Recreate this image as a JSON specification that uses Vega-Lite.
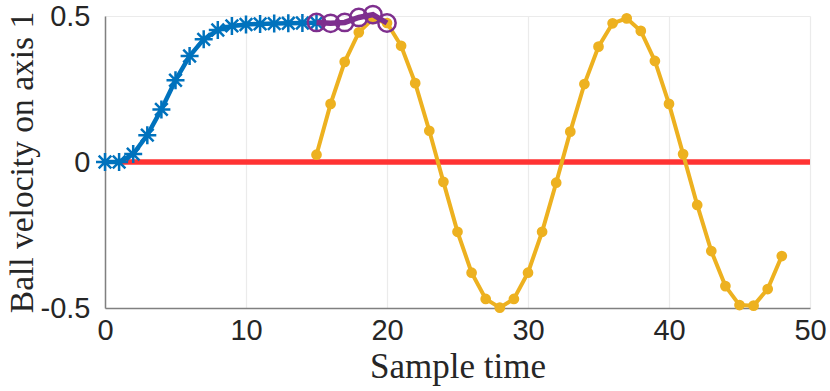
{
  "$schema": "https://vega.github.io/schema/vega-lite/v6.json",
  "width": 705,
  "height": 292,
  "autosize": {"type": "none"},
  "padding": {"left": 105, "top": 16, "right": 20, "bottom": 83},
  "background": "white",
  "config": {
    "view": {"stroke": null},
    "axis": {
      "labelFont": "Liberation Sans",
      "labelFontSize": 29,
      "labelColor": "#262626",
      "labelFlush": false,
      "labelOverlap": false,
      "titleFont": "Liberation Serif",
      "titleFontWeight": "normal",
      "titleColor": "#262626",
      "domainColor": "#808080",
      "domainWidth": 1.5,
      "ticks": false,
      "gridColor": "#ebebeb",
      "gridWidth": 1.2
    }
  },
  "datasets": {
    "red": [{"t": 1, "v": 0}, {"t": 50, "v": 0}],
    "blue": [
      {"t": 0, "v": 0}, {"t": 1, "v": 0.0}, {"t": 2, "v": 0.027}, {"t": 3, "v": 0.092},
      {"t": 4, "v": 0.18}, {"t": 5, "v": 0.28}, {"t": 6, "v": 0.363}, {"t": 7, "v": 0.42},
      {"t": 8, "v": 0.452}, {"t": 9, "v": 0.466}, {"t": 10, "v": 0.471}, {"t": 11, "v": 0.473},
      {"t": 12, "v": 0.474}, {"t": 13, "v": 0.475}, {"t": 14, "v": 0.476}, {"t": 15, "v": 0.477}
    ],
    "yellow": [
      {"t": 15, "v": 0.025}, {"t": 16, "v": 0.199}, {"t": 17, "v": 0.343}, {"t": 18, "v": 0.444},
      {"t": 19, "v": 0.49}, {"t": 20, "v": 0.476}, {"t": 21, "v": 0.398}, {"t": 22, "v": 0.27},
      {"t": 23, "v": 0.107}, {"t": 24, "v": -0.068}, {"t": 25, "v": -0.239}, {"t": 26, "v": -0.379},
      {"t": 27, "v": -0.469}, {"t": 28, "v": -0.499}, {"t": 29, "v": -0.469}, {"t": 30, "v": -0.379},
      {"t": 31, "v": -0.239}, {"t": 32, "v": -0.071}, {"t": 33, "v": 0.104}, {"t": 34, "v": 0.267},
      {"t": 35, "v": 0.395}, {"t": 36, "v": 0.475}, {"t": 37, "v": 0.492}, {"t": 38, "v": 0.449},
      {"t": 39, "v": 0.346}, {"t": 40, "v": 0.199}, {"t": 41, "v": 0.027}, {"t": 42, "v": -0.147},
      {"t": 43, "v": -0.305}, {"t": 44, "v": -0.425}, {"t": 45, "v": -0.49}, {"t": 46, "v": -0.492},
      {"t": 47, "v": -0.435}, {"t": 48, "v": -0.322}
    ],
    "purple": [
      {"t": 15, "v": 0.478}, {"t": 16, "v": 0.475}, {"t": 17, "v": 0.478},
      {"t": 18, "v": 0.495}, {"t": 19, "v": 0.505}, {"t": 20, "v": 0.476}
    ]
  },
  "encoding": {
    "x": {
      "field": "t", "type": "quantitative",
      "scale": {"domain": [0, 50], "nice": false, "zero": false},
      "axis": {
        "title": "Sample time",
        "titleFontSize": 35,
        "values": [0, 10, 20, 30, 40, 50],
        "labelPadding": 8,
        "titlePadding": 4,
        "grid": true
      }
    },
    "y": {
      "field": "v", "type": "quantitative",
      "scale": {"domain": [-0.5, 0.5], "nice": false, "zero": false},
      "axis": {
        "title": "Ball velocity on axis 1",
        "titleFontSize": 33.5,
        "values": [-0.5, 0, 0.5],
        "labelExpr": "datum.value == 0 ? '0' : (datum.value < 0 ? '-' : '') + format(abs(datum.value), '.1f')",
        "labelPadding": 15,
        "titlePadding": 1,
        "grid": true
      }
    }
  },
  "layer": [
    {"data": {"name": "red"}, "mark": {"type": "line", "color": "#ff3333", "strokeWidth": 5.5}},
    {"data": {"name": "blue"}, "mark": {"type": "line", "color": "#0072bd", "strokeWidth": 4.5}},
    {"data": {"name": "blue"}, "mark": {"type": "point", "filled": false, "stroke": "#0072bd", "strokeWidth": 2.5, "size": 324,
      "shape": "M0,-1L0,1M-1,0L1,0M-0.7,-0.7L0.7,0.7M-0.7,0.7L0.7,-0.7", "opacity": 1}},
    {"data": {"name": "yellow"}, "mark": {"type": "line", "color": "#edb120", "strokeWidth": 4}},
    {"data": {"name": "yellow"}, "mark": {"type": "point", "filled": true, "color": "#edb120", "size": 115, "opacity": 1}},
    {"data": {"name": "purple"}, "mark": {"type": "line", "color": "#7e2f8e", "strokeWidth": 5.5}},
    {"data": {"name": "purple"}, "mark": {"type": "point", "filled": false, "stroke": "#7e2f8e", "strokeWidth": 2.5, "size": 300, "opacity": 1}}
  ]
}
